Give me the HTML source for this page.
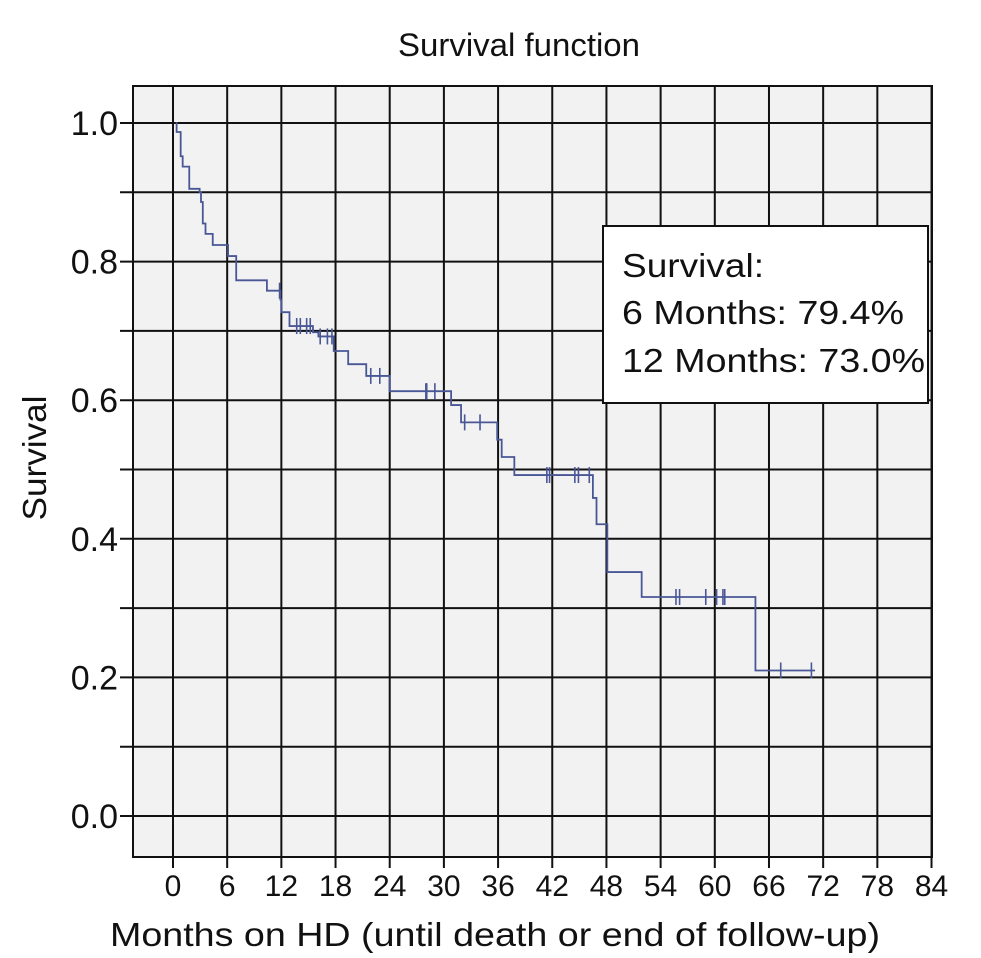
<!DOCTYPE html>
<html><head><meta charset="utf-8"><style>
html,body{margin:0;padding:0;background:#fff;}
svg{display:block;font-family:"Liberation Sans",sans-serif;}
</style></head><body>
<svg width="981" height="958" viewBox="0 0 981 958">
<text x="519" y="56" font-size="32" text-anchor="middle" fill="#111" textLength="242" lengthAdjust="spacingAndGlyphs">Survival function</text>
<rect x="133" y="86" width="799" height="771" fill="#f2f2f2"/>
<g id="grid"></g>
<g id="curve"></g>
<rect x="133" y="86" width="799" height="771" fill="none" stroke="#111" stroke-width="2"/>
<g id="axes"></g>
<g>
<rect x="603" y="226" width="325" height="177" fill="#fff" stroke="#111" stroke-width="2"/>
<text x="622" y="277" font-size="33" fill="#111" textLength="142" lengthAdjust="spacingAndGlyphs">Survival:</text>
<text x="622" y="324" font-size="33" fill="#111" textLength="282" lengthAdjust="spacingAndGlyphs">6 Months: 79.4%</text>
<text x="622" y="372" font-size="33" fill="#111" textLength="303" lengthAdjust="spacingAndGlyphs">12 Months: 73.0%</text>
</g>
<text x="495" y="946" font-size="33" text-anchor="middle" fill="#111" textLength="770" lengthAdjust="spacingAndGlyphs">Months on HD (until death or end of follow-up)</text>
<text x="0" y="0" font-size="33" text-anchor="middle" fill="#111" textLength="125" lengthAdjust="spacingAndGlyphs" transform="translate(46,458) rotate(-90)">Survival</text>
</svg>
<script>
const xTicks = [0,6,12,18,24,30,36,42,48,54,60,66,72,78,84];
const yTicks = [0.0,0.2,0.4,0.6,0.8,1.0];
const yGrid = [0.1,0.3,0.5,0.7,0.9];
const eventTimes = [0.4,0.85,1.07,1.8,2.95,3.1,3.3,3.6,4.4,6.1,7.0,10.4,11.9,12.0,12.9,15.5,16.1,17.8,19.4,21.4,24.0,30.8,31.9,35.9,36.4,37.8,46.5,46.9,48.1,51.9,64.5];
const survValues = [0.987,0.952,0.937,0.905,0.9,0.886,0.855,0.84,0.824,0.808,0.773,0.758,0.745,0.727,0.707,0.698,0.692,0.671,0.652,0.635,0.613,0.593,0.568,0.543,0.518,0.492,0.459,0.421,0.352,0.316,0.21];
const censorTimes = [11.8,13.7,14.1,14.8,15.2,16.3,17.1,17.6,21.9,22.9,28.0,28.1,29.0,32.3,34.0,41.4,41.7,44.5,44.9,46.1,55.7,56.1,59.0,60.2,60.9,61.1,67.3,70.7];
const startTime = 0.3, endTime = 71.1;

const NS = "http://www.w3.org/2000/svg";
const X = m => 173 + m * 9.03;
const Y = s => 816 - s * 693;
function mk(tag, attrs, parent){const e=document.createElementNS(NS,tag);for(const k in attrs)e.setAttribute(k,attrs[k]);parent.appendChild(e);return e;}
const grid=document.getElementById('grid'), axes=document.getElementById('axes'), curve=document.getElementById('curve');

xTicks.forEach(t=>{
  const l=mk('line',{x1:X(t),x2:X(t),y1:86,y2:868,stroke:'#111','stroke-width':2},grid);
  
  
  const tx=mk('text',{x:X(t),y:896,'font-size':30,'text-anchor':'middle',fill:'#111'},axes);
  tx.textContent=t;
  
  
});
yTicks.forEach(t=>{
  const l=mk('line',{x1:120,x2:932,y1:Y(t),y2:Y(t),stroke:'#111','stroke-width':2},grid);
  
  
  const tx=mk('text',{x:118,y:Y(t)+12,'font-size':34,'text-anchor':'end',fill:'#111'},axes);
  tx.textContent=t.toFixed(1);
  
  
});
yGrid.forEach(t=>{
  const l=mk('line',{x1:120,x2:932,y1:Y(t),y2:Y(t),stroke:'#111','stroke-width':2},grid);
  
  
});

let d='M'+X(startTime)+','+Y(1), cur=1;
eventTimes.forEach((t,i)=>{d+=' L'+X(t)+','+Y(cur)+' L'+X(t)+','+Y(survValues[i]);cur=survValues[i];});
d+=' L'+X(endTime)+','+Y(cur);
const p=mk('path',{d:d,fill:'none',stroke:'#4a5796','stroke-width':1.8},curve);



function survAt(t){let s=1;eventTimes.forEach((e,i)=>{if(e<=t)s=survValues[i];});return s;}
censorTimes.forEach(t=>{
  const s=survAt(t);
  const c=mk('line',{x1:X(t),x2:X(t),y1:Y(s)-8,y2:Y(s)+8,stroke:'#4a5796','stroke-width':1.6},curve);
  
  
});
</script>
</body></html>
